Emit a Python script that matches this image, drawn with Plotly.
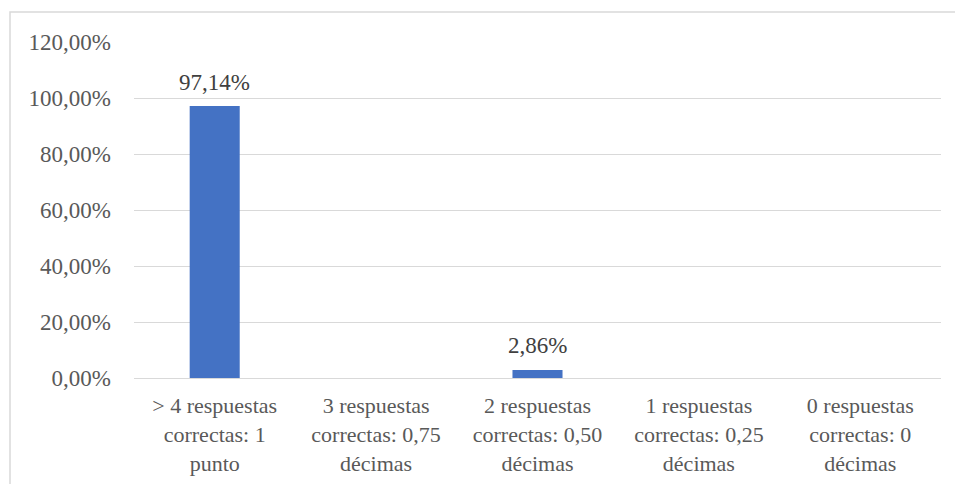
import plotly.graph_objects as go

categories = [
    "&gt; 4 respuestas<br>correctas: 1<br>punto",
    "3 respuestas<br>correctas: 0,75<br>décimas",
    "2 respuestas<br>correctas: 0,50<br>décimas",
    "1 respuestas<br>correctas: 0,25<br>décimas",
    "0 respuestas<br>correctas: 0<br>décimas",
]
values = [0.9714, 0.0, 0.0286, 0.0, 0.0]
tick_vals = [0, 0.2, 0.4, 0.6, 0.8, 1.0, 1.2]

FONT = "Liberation Serif, Times New Roman, serif"
GRID = "#d9d9d9"

fig = go.Figure(
    go.Bar(
        x=categories,
        y=values,
        width=0.31,
        marker=dict(color="#4472c4", line=dict(width=0)),
        hoverinfo="skip",
    )
)

for c, v in zip(categories, values):
    if v > 0:
        fig.add_annotation(
            x=c,
            y=v,
            text=f"{v * 100:.2f}%".replace(".", ","),
            showarrow=False,
            yanchor="middle",
            yshift=24,
            font=dict(family=FONT, size=23, color="#404040"),
        )

L, R, T, B = 134, 14, 42, 106
W, H = 955, 484
pw = W - L - R
ph = H - T - B

fig.update_layout(
    width=W,
    height=H,
    margin=dict(l=L, r=R, t=T, b=B, pad=0, autoexpand=False),
    paper_bgcolor="white",
    plot_bgcolor="white",
    separators=",.",
    showlegend=False,
    font=dict(family=FONT, size=22, color="#595959"),
    xaxis=dict(
        automargin=False,
        showgrid=False,
        showline=True,
        linecolor=GRID,
        linewidth=1,
        ticks="",
        ticklabelstandoff=8,
        tickfont=dict(family=FONT, size=22, color="#595959"),
    ),
    yaxis=dict(
        automargin=False,
        range=[0, 1.2],
        tickvals=tick_vals,
        tickformat=".2%",
        showgrid=True,
        gridcolor=GRID,
        gridwidth=1,
        zeroline=False,
        showline=False,
        ticks="",
        ticklabelstandoff=22,
        tickfont=dict(family=FONT, size=23, color="#595959"),
    ),
    shapes=[
        dict(
            type="rect",
            xref="paper",
            yref="paper",
            x0=(10 - L) / pw,
            x1=(W + 20 - L) / pw,
            y0=-(H + 20 - T - ph) / ph,
            y1=(H - 12 - B) / ph,
            line=dict(color=GRID, width=1.5),
            fillcolor="rgba(0,0,0,0)",
            layer="below",
        )
    ],
)

fig.write_html(
    "out.html",
    config={"displayModeBar": False},
    post_script="document.body.style.margin='0';document.body.style.padding='0';",
)
